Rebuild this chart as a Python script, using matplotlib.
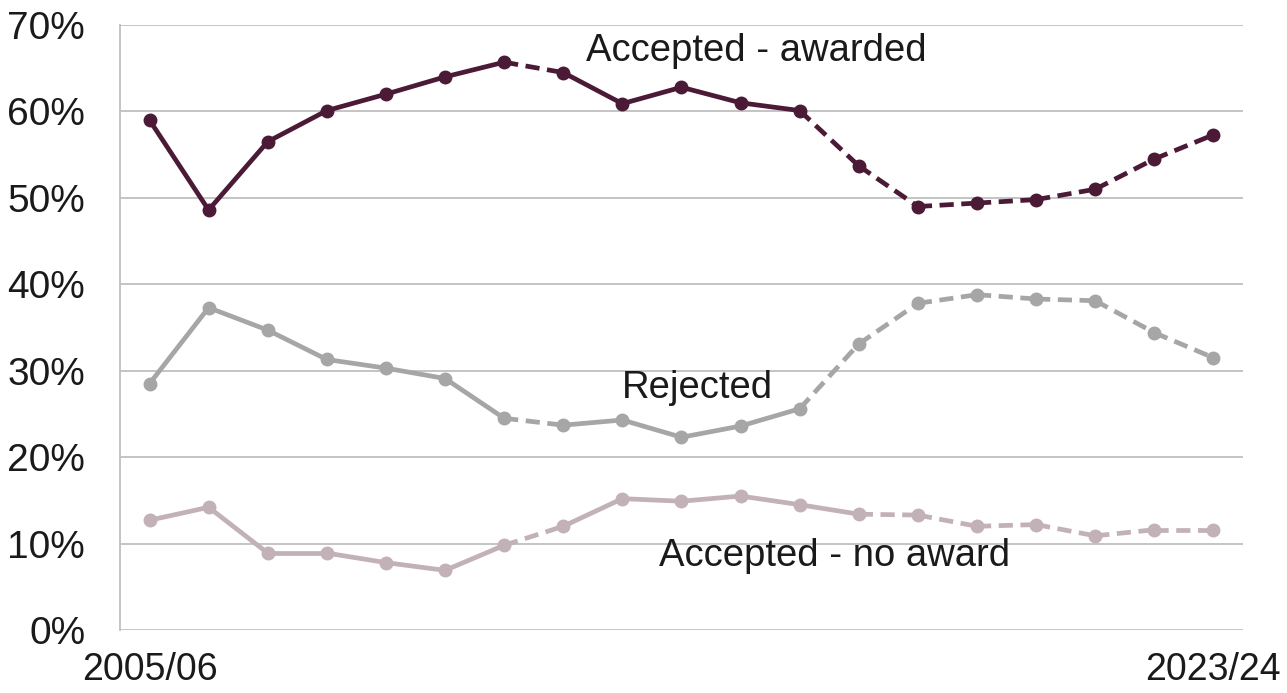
import matplotlib
matplotlib.use("Agg")
import matplotlib.pyplot as plt

# ---------------------------------------------------------------------------
# データ（2005/06 〜 2023/24、割合 %）
# ---------------------------------------------------------------------------
years = [f"{y}/{str(y + 1)[-2:]}" for y in range(2005, 2024)]

awarded = [59.0, 48.6, 56.5, 60.1, 62.0, 64.0, 65.7, 64.5, 60.9, 62.8,
           61.0, 60.1, 53.7, 49.0, 49.4, 49.8, 51.0, 54.5, 57.3]
rejected = [28.5, 37.3, 34.7, 31.3, 30.3, 29.1, 24.5, 23.7, 24.3, 22.3,
            23.6, 25.6, 33.1, 37.8, 38.8, 38.3, 38.1, 34.4, 31.5]
no_award = [12.7, 14.2, 8.9, 8.9, 7.8, 6.9, 9.8, 12.0, 15.2, 14.9,
            15.5, 14.5, 13.4, 13.3, 12.0, 12.2, 10.9, 11.6, 11.6]

# 区間ごとの破線フラグ（i → i+1）
dash_awarded = [False] * 6 + [True] + [False] * 4 + [True] * 7
dash_rejected = [False] * 6 + [True] + [False] * 4 + [True] * 7
dash_no_award = [False] * 6 + [True] + [False] * 5 + [True] * 6

series = [
    ("Accepted - awarded", awarded, dash_awarded, "#4b1a36"),
    ("Rejected", rejected, dash_rejected, "#a6a6a6"),
    ("Accepted - no award", no_award, dash_no_award, "#c2b1b6"),
]

plt.rcParams["font.family"] = ["Liberation Sans", "DejaVu Sans"]
TEXT = "#1a1a1a"

fig = plt.figure(figsize=(12.87, 6.93), dpi=100)
ax = fig.add_axes([0.0932, 0.0909, 0.8726, 0.873])

x = list(range(len(years)))

for name, vals, dashes, color in series:
    for i in range(len(vals) - 1):
        ax.plot(x[i:i + 2], vals[i:i + 2], color=color, lw=3.4,
                linestyle=(0, (3, 1.6)) if dashes[i] else "-",
                solid_capstyle="round", dash_capstyle="butt", zorder=3)
    ax.plot(x, vals, linestyle="none", marker="o", markersize=9,
            color=color, zorder=4)

# 系列ラベル
ax.text(10.27, 67.0, "Accepted - awarded", fontsize=27.5, ha="center", va="center", color=TEXT)
ax.text(9.27, 28.0, "Rejected", fontsize=27.5, ha="center", va="center", color=TEXT)
ax.text(11.59, 8.6, "Accepted - no award", fontsize=27.5, ha="center", va="center", color=TEXT)

ax.set_xlim(-0.5, 18.5)
ax.set_ylim(0, 70)
ax.set_yticks(range(0, 71, 10))
ax.set_yticklabels([f"{v}%" for v in range(0, 71, 10)], fontsize=28, color=TEXT)
ax.set_xticks([0, 18])
ax.set_xticklabels([years[0], years[-1]], fontsize=27, color=TEXT)
ax.tick_params(axis="y", length=0, pad=25)
ax.tick_params(axis="x", length=0, pad=16)

ax.grid(axis="y", color="#bfbfbf", lw=1.3, zorder=0)
for side in ["top", "right", "bottom"]:
    ax.spines[side].set_visible(False)
ax.spines["left"].set_color("#bfbfbf")
ax.spines["left"].set_linewidth(1.3)

fig.savefig("out.png", dpi=100)
